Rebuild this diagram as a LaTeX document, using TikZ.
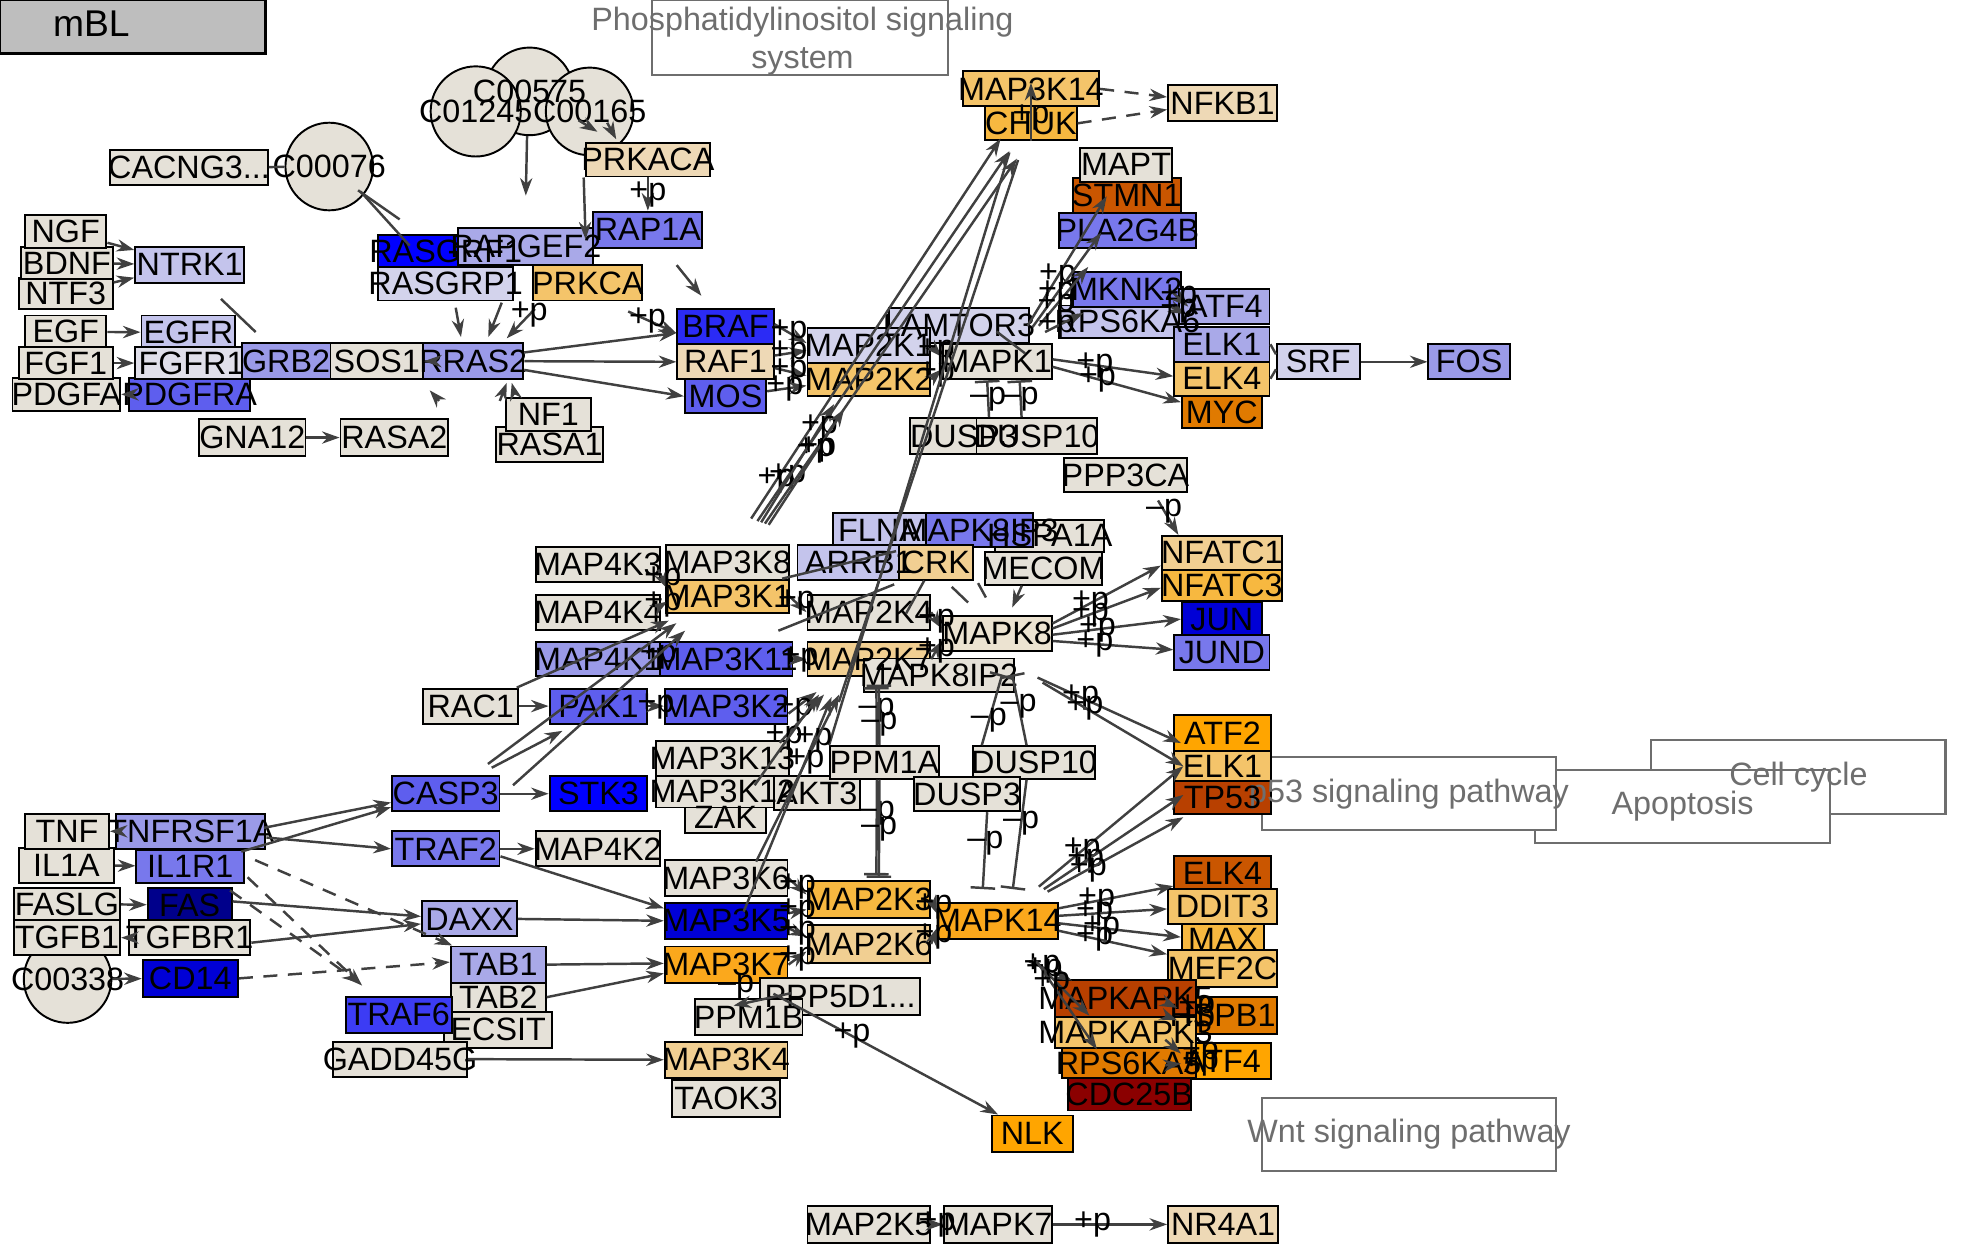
\documentclass[tikz,border=0pt]{standalone}
\usepackage{fontspec}
\setmainfont{Liberation Sans}
\usetikzlibrary{arrows.meta,calc,positioning}

\definecolor{nd}{HTML}{E5E1D8}
\definecolor{bZ}{HTML}{E0DFEA}
\definecolor{bA}{HTML}{D3D3EC}
\definecolor{bB}{HTML}{C4C4EC}
\definecolor{bC}{HTML}{A9A9E8}
\definecolor{bD}{HTML}{9A9AE8}
\definecolor{bE}{HTML}{7878EC}
\definecolor{bF}{HTML}{5E5EEE}
\definecolor{bG}{HTML}{3C3CF4}
\definecolor{bK}{HTML}{2B2BF5}
\definecolor{bH}{HTML}{0000FF}
\definecolor{bI}{HTML}{0000D6}
\definecolor{bJ}{HTML}{00008B}
\definecolor{oZ}{HTML}{ECE3D1}
\definecolor{oA}{HTML}{EED9B6}
\definecolor{oB}{HTML}{F1CF92}
\definecolor{oC}{HTML}{F4C46A}
\definecolor{oD}{HTML}{F7B840}
\definecolor{oE}{HTML}{FBA81C}
\definecolor{oF}{HTML}{FFA500}
\definecolor{oG}{HTML}{E07A00}
\definecolor{oH}{HTML}{CA5600}
\definecolor{oI}{HTML}{B84000}
\definecolor{oJ}{HTML}{8B0000}
\definecolor{mblgray}{HTML}{BEBEBE}
\definecolor{edge}{HTML}{404040}
\definecolor{maptxt}{HTML}{6E6E6E}

\pgfdeclarelayer{boxes}
\pgfsetlayers{boxes,main}

\newcommand{\ux}{0.01252cm}
\newcommand{\gfont}{\fontsize{9.2}{10.7}\selectfont}

% gene box and its label: name, x1, y1, x2, y2, fill, label
\newcommand{\gene}[7]{%
  \begin{pgfonlayer}{boxes}
    \node[genebox, fill=#6, minimum width={(#4-#2)*\ux}, minimum height={(#5-#3)*\ux}]
      (#1) at ({(#2+#4)/2},{(#3+#5)/2}) {};
  \end{pgfonlayer}
  \node[genetxt] (#1-t) at (#1) {#7};}
% compound: name, x, y, radius, label
\newcommand{\cpd}[5]{%
  \begin{pgfonlayer}{boxes}
    \node[cpdbox, minimum size={2*#4*\ux}] (#1) at (#2,#3) {};
  \end{pgfonlayer}
  \node[genetxt] (#1-t) at (#1) {#5};}
% pathway map box: name, x1, y1, x2, y2, label
\newcommand{\pmap}[6]{%
  \begin{pgfonlayer}{boxes}
    \node[mapbox, minimum width={(#4-#2)*\ux}, minimum height={(#5-#3)*\ux}]
      (#1) at ({(#2+#4)/2},{(#3+#5)/2}) {};
  \end{pgfonlayer}
  \node[maptext] (#1-t) at (#1) {#6};}

\begin{document}
\begin{tikzpicture}[x=0.01252cm, y=-0.01252cm,
    genebox/.style={draw=black, line width=0.55pt, inner sep=0pt, rectangle},
    cpdbox/.style={draw=black, line width=0.55pt, circle, fill=nd, inner sep=0pt},
    genetxt/.style={font=\gfont, inner sep=0pt, text=black},
    mapbox/.style={draw=maptxt, line width=0.6pt, fill=white, inner sep=0pt},
    maptext/.style={font=\gfont, text=maptxt, align=center, inner sep=0pt},
    lbl/.style={font=\gfont, inner sep=0pt, text=black},
    ar/.style={draw=edge, line width=0.7pt, -{Stealth[length=5pt,width=3.5pt]}},
    ln/.style={draw=edge, line width=0.7pt},
    dsh/.style={ar, dash pattern=on 4pt off 3pt},
    inh/.style={draw=edge, line width=0.7pt, -{Bar[width=7pt]}}]
\useasboundingbox (0,0) rectangle (1568,996);

% title and pathway maps
\begin{pgfonlayer}{boxes}
  \node[draw=black, line width=0.8pt, fill=mblgray, inner sep=0pt,
    minimum width={212*\ux}, minimum height={43*\ux}] (mbl) at (106,21.5) {};
  \node[mapbox, minimum width={236*\ux}, minimum height={60*\ux}] (phos) at (639,30) {};
\end{pgfonlayer}
\node[font=\fontsize{10.6}{12}\selectfont, inner sep=0pt] (mbl-t) at (73,19) {mBL};
\node[maptext, font=\fontsize{9.2}{10.9}\selectfont] (phos-t) at (641,33) {Phosphatidylinositol signaling\\system};
\pmap{cellcyc}{1319}{591}{1554}{650}{Cell cycle}
\pmap{apopt}{1226}{615}{1462}{673}{Apoptosis}
\pmap{ptf}{1008}{605}{1243}{663}{p53 signaling pathway}
\pmap{wnt}{1008}{877}{1243}{935}{Wnt signaling pathway}

% receptors and RAS
\gene{ntf3}{15}{222}{90}{247}{nd}{NTF3}
\gene{bdnf}{17}{197}{90}{223}{nd}{BDNF}
\gene{ngf}{20}{172}{85}{198}{nd}{NGF}
\gene{ntrk1}{108}{197}{195}{226}{bB}{NTRK1}
\gene{egf}{20}{252}{85}{278}{nd}{EGF}
\gene{egfr}{113}{252}{188}{279}{bB}{EGFR}
\gene{pdgfa}{10}{302}{96}{328}{nd}{PDGFA}
\gene{fgf1}{15}{277}{90}{303}{nd}{FGF1}
\gene{pdgfra}{103}{302}{200}{328}{bF}{PDGFRA}
\gene{fgfr1}{108}{277}{198}{303}{bZ}{FGFR1}
\gene{grb2}{193}{274}{264}{303}{bD}{GRB2}
\gene{sos1}{264}{274}{338}{303}{nd}{SOS1}
\gene{rras2}{338}{274}{418}{303}{bD}{RRAS2}
\gene{gna12}{159}{335}{244}{364}{nd}{GNA12}
\gene{rasa2}{272}{335}{358}{364}{nd}{RASA2}
\gene{rasa1}{396}{341}{482}{369}{nd}{RASA1}
\gene{nf1}{404}{318}{472}{344}{nd}{NF1}
\gene{cacng}{88}{120}{214}{148}{nd}{CACNG3...}
\cpd{c00076}{263}{133}{35}{C00076}
\cpd{c00575}{423}{73}{35}{C00575}
\cpd{c01245}{380}{89}{36}{C01245}
\cpd{c00165}{471}{89}{35}{C00165}
\gene{prkaca}{468}{114}{567}{141}{oA}{PRKACA}
\gene{rap1a}{474}{169}{561}{198}{bE}{RAP1A}
\gene{rasgrf1}{302}{188}{410}{214}{bH}{RASGRF1}
\gene{rapgef2}{366}{182}{474}{212}{bC}{RAPGEF2}
\gene{rasgrp1}{302}{213}{410}{240}{bA}{RASGRP1}
\gene{prkca}{426}{212}{513}{240}{oC}{PRKCA}

% ERK module
\gene{braf}{541}{247}{618}{275}{bK}{BRAF}
\gene{raf1}{541}{275}{618}{303}{oA}{RAF1}
\gene{mos}{547}{303}{612}{330}{bF}{MOS}
\gene{lamtor3}{710}{246}{822}{274}{bA}{LAMTOR3}
\gene{map2k1}{645}{262}{743}{290}{bA}{MAP2K1}
\gene{map2k2}{645}{290}{743}{316}{oC}{MAP2K2}
\gene{mapk1}{753}{275}{840}{303}{nd}{MAPK1}
\gene{map3k14}{769}{57}{878}{85}{oC}{MAP3K14}
\gene{chuk}{787}{85}{860}{112}{oD}{CHUK}
\gene{nfkb1}{933}{68}{1020}{97}{oA}{NFKB1}
\gene{pla2g4b}{846}{170}{955}{198}{bE}{PLA2G4B}
\gene{stmn1}{857}{142}{943}{170}{oH}{STMN1}
\gene{mapt}{863}{118}{936}{145}{nd}{MAPT}
\gene{rps6ka6}{846}{244}{955}{270}{bB}{RPS6KA6}
\gene{mknk2}{857}{217}{943}{245}{bE}{MKNK2}
\gene{atf4a}{942}{231}{1014}{259}{bC}{ATF4}
\gene{elk1a}{938}{261}{1014}{289}{bC}{ELK1}
\gene{elk4a}{938}{289}{1014}{316}{oC}{ELK4}
\gene{myc}{944}{316}{1008}{342}{oG}{MYC}
\gene{srf}{1020}{275}{1086}{303}{bA}{SRF}
\gene{fos}{1141}{275}{1206}{303}{bD}{FOS}
\gene{dusp3a}{727}{334}{813}{363}{nd}{DUSP3}
\gene{dusp10a}{780}{334}{876}{363}{nd}{DUSP10}
\gene{ppp3ca}{850}{366}{948}{393}{nd}{PPP3CA}

% JNK module
\gene{hspa1a}{795}{415}{882}{441}{nd}{HSPA1A}
\gene{flna}{665}{410}{740}{437}{bB}{FLNA}
\gene{mapk8ip3}{740}{410}{825}{437}{bE}{MAPK8IP3}
\gene{mecom}{787}{441}{880}{467}{nd}{MECOM}
\gene{arrb1}{637}{435}{735}{463}{bB}{ARRB1}
\gene{crk}{718}{435}{777}{463}{oB}{CRK}
\gene{map4k3}{428}{437}{527}{465}{nd}{MAP4K3}
\gene{map3k8}{532}{435}{630}{463}{nd}{MAP3K8}
\gene{map3k1}{532}{463}{630}{490}{oC}{MAP3K1}
\gene{map4k4}{428}{475}{527}{503}{nd}{MAP4K4}
\gene{map2k4}{645}{475}{743}{503}{nd}{MAP2K4}
\gene{mapk8}{753}{492}{840}{520}{oZ}{MAPK8}
\gene{nfatc1}{928}{428}{1024}{455}{oB}{NFATC1}
\gene{nfatc3}{928}{455}{1024}{480}{oD}{NFATC3}
\gene{jun}{944}{481}{1008}{508}{bI}{JUN}
\gene{jund}{938}{507}{1014}{535}{bE}{JUND}
\gene{map4k1}{428}{513}{527}{540}{bD}{MAP4K1}
\gene{map3k11}{527}{513}{633}{540}{bF}{MAP3K11}
\gene{map2k7}{645}{513}{743}{540}{oB}{MAP2K7}
\gene{mapk8ip2}{690}{526}{810}{553}{nd}{MAPK8IP2}
\gene{rac1}{338}{550}{414}{578}{nd}{RAC1}
\gene{pak1}{439}{550}{517}{578}{bF}{PAK1}
\gene{map3k2}{531}{550}{629}{578}{bF}{MAP3K2}
\gene{zak}{547}{640}{612}{665}{nd}{ZAK}
\gene{map3k13}{524}{592}{630}{620}{nd}{MAP3K13}
\gene{map3k12}{524}{620}{630}{645}{nd}{MAP3K12}
\gene{akt3}{618}{620}{687}{647}{nd}{AKT3}
\gene{ppm1a}{663}{596}{750}{622}{nd}{PPM1A}
\gene{dusp10b}{777}{596}{875}{622}{nd}{DUSP10}
\gene{dusp3b}{730}{621}{815}{648}{nd}{DUSP3}
\gene{stk3}{439}{620}{517}{648}{bH}{STK3}
\gene{casp3}{313}{620}{399}{648}{bF}{CASP3}
\gene{traf2}{313}{664}{399}{692}{bE}{TRAF2}
\gene{map4k2}{428}{664}{527}{692}{nd}{MAP4K2}

% ligands, receptors, adaptors (lower left)
\gene{il1a}{15}{677}{91}{705}{nd}{IL1A}
\gene{tnf}{20}{650}{87}{678}{nd}{TNF}
\gene{tnfrsf1a}{93}{650}{212}{678}{bD}{TNFRSF1A}
\gene{il1r1}{109}{679}{195}{705}{bE}{IL1R1}
\gene{faslg}{11}{709}{96}{735}{nd}{FASLG}
\gene{fas}{118}{709}{185}{737}{bJ}{FAS}
\cpd{c00338}{54}{782}{35}{C00338}
\gene{tgfb1}{11}{735}{96}{763}{nd}{TGFB1}
\gene{tgfbr1}{103}{735}{200}{763}{nd}{TGFBR1}
\gene{cd14}{114}{767}{190}{796}{bI}{CD14}
\gene{daxx}{337}{720}{413}{748}{bC}{DAXX}
\gene{tab2}{360}{784}{436}{809}{nd}{TAB2}
\gene{tab1}{360}{756}{436}{785}{bC}{TAB1}
\gene{ecsit}{355}{808}{441}{837}{nd}{ECSIT}
\gene{traf6}{276}{796}{361}{825}{bG}{TRAF6}
\gene{gadd45g}{266}{832}{373}{860}{nd}{GADD45G}

% p38 module
\gene{map3k6}{531}{687}{629}{716}{nd}{MAP3K6}
\gene{map3k5}{531}{721}{629}{750}{bI}{MAP3K5}
\gene{map3k7}{531}{756}{629}{785}{oE}{MAP3K7}
\gene{ppp5d1}{607}{781}{735}{811}{nd}{PPP5D1...}
\gene{ppm1b}{555}{798}{641}{827}{nd}{PPM1B}
\gene{map3k4}{531}{832}{629}{861}{oB}{MAP3K4}
\gene{taok3}{537}{863}{623}{892}{nd}{TAOK3}
\gene{map2k3}{645}{704}{743}{733}{oD}{MAP2K3}
\gene{map2k6}{645}{739}{743}{769}{oB}{MAP2K6}
\gene{mapk14}{749}{721}{845}{750}{oE}{MAPK14}
\gene{nlk}{792}{891}{857}{920}{oF}{NLK}
\gene{atf2}{938}{571}{1015}{600}{oF}{ATF2}
\gene{elk1b}{938}{600}{1015}{624}{oC}{ELK1}
\gene{tp53}{938}{624}{1015}{650}{oI}{TP53}
\gene{elk4b}{938}{684}{1015}{712}{oH}{ELK4}
\gene{ddit3}{933}{710}{1020}{738}{oC}{DDIT3}
\gene{max}{944}{738}{1010}{763}{oD}{MAX}
\gene{mef2c}{933}{759}{1020}{788}{oC}{MEF2C}
\gene{hspb1}{933}{796}{1020}{826}{oG}{HSPB1}
\gene{atf4b}{938}{833}{1015}{862}{oF}{ATF4}
\gene{mapkapk5}{843}{783}{955}{812}{oI}{MAPKAPK5}
\gene{mapkapk3}{843}{812}{955}{837}{oC}{MAPKAPK3}
\gene{rps6ka5}{848}{837}{955}{861}{oG}{RPS6KA5}
\gene{cdc25b}{853}{861}{951}{887}{oJ}{CDC25B}

% ERK5 module
\gene{map2k5}{645}{963}{743}{993}{nd}{MAP2K5}
\gene{mapk7}{754}{963}{840}{993}{nd}{MAPK7}
\gene{nr4a1}{933}{963}{1021}{993}{oA}{NR4A1}

% connectors: receptors and RAS
\draw[ar] (ngf) -- (ntrk1);
\draw[ar] (bdnf) -- (ntrk1);
\draw[ar] (ntf3) -- (ntrk1);
\draw[ar] (egf) -- (egfr);
\draw[ar] (fgf1) -- (fgfr1);
\draw[ar] (pdgfra) -- (pdgfa);
\draw[ar] (gna12) -- (rasa2);
\draw[ln] (cacng) -- (c00076);
\draw[ar] ($(rras2.west)+(10,0)$) -- (sos1.east);
\draw[ln] ($(ntrk1.south)+(25,12)$) -- ($(grb2.north west)+(12,-8)$);
\draw[ln] ($(c00076)+(23,19)$) -- ($(rasgrf1.north west)+(18,-12)$);
\draw[ln] ($(c00076)+(25,20)$) -- ($(rasgrf1.north west)+(26,9)$);
\draw[ar] ($(c00575.south)+(-2,0)$) -- ($(rapgef2.north)+(0,-25)$);
\draw[ar] ($(c00165)+(-9,7)$) -- ($(prkaca.north west)+(10,-8)$);
\draw[ar] ($(c00165)+(14,9)$) -- ($(prkaca.north west)+(25,-2)$);
\draw[ar] ($(prkaca.south west)+(-1,0)$) -- ($(rapgef2.north east)+(-7,10)$);
\draw[ar] (prkaca) -- node[lbl] (q1) {+p} (rap1a);
\draw[ar] ($(rap1a.south)+(23,13)$) -- ($(braf.north west)+(20,-10)$);
\draw[ar] ($(rasgrp1.south)+(8,5)$) -- ($(rras2.north west)+(31,-4)$);
\draw[ar] ($(rasgrp1.south east)+(-10,1)$) -- ($(rras2.north)+(12,-4)$);
\draw[ar] ($(prkca.south west)+(2,6)$) -- node[lbl,pos=0.2] (q2) {+p} ($(rras2.north east)+(-14,-3)$);
\draw[ar] ($(prkca.south east)+(-12,8)$) -- node[lbl,pos=0.4] (q3) {+p} ($(braf.west)+(0,5)$);
\draw[ar] ($(rras2.east)+(0,-7)$) -- ($(braf.west)+(0,5)$);
\draw[ar] (rras2.east) -- (raf1.west);
\draw[ar] ($(rras2.east)+(0,7)$) -- (mos.west);
\draw[ar] ($(rasa2.north east)+(-8,-14)$) -- ($(rras2.south west)+(6,8)$);
\draw[ar] ($(nf1.north west)+(8,-2)$) -- ($(rras2.south east)+(-10,2)$);
\draw[ar] ($(rasa1.north west)+(4,-20)$) -- ($(rras2.south east)+(-14,2)$);

% connectors: ERK module
\draw[ar] ($(braf.east)+(0,-2)$) -- node[lbl,pos=0.45] (q4) {+p} ($(map2k1.west)+(0,-2)$);
\draw[ar] ($(raf1.east)+(0,-5)$) -- node[lbl,pos=0.45] (q5) {+p} ($(map2k1.west)+(0,4)$);
\draw[ar] ($(raf1.east)+(0,5)$) -- node[lbl,pos=0.45] (q6) {+p} ($(map2k2.west)+(0,-3)$);
\draw[ar] ($(mos.east)+(0,-4)$) -- node[lbl,pos=0.45] (q7) {+p} ($(map2k2.west)+(0,5)$);
\draw[ar] (map2k1.east) -- node[lbl] (q8) {+p} ($(mapk1.west)+(0,-4)$);
\draw[ar] (map2k2.east) -- node[lbl] (q9) {+p} ($(mapk1.west)+(0,6)$);
\draw[ln] ($(lamtor3.south)+(30,-10)$) -- ($(mapk1.north east)+(-22,8)$);
\draw[ar] ($(mapk1.north east)+(-20,-14)$) -- node[lbl,pos=0.38] (q10) {+p} ($(stmn1.south)+(-16,-14)$);
\draw[ar] ($(mapk1.north east)+(-16,-13)$) -- node[lbl,pos=0.35] (q11) {+p} ($(pla2g4b.south)+(-21,-13)$);
\draw[ar] ($(mapk1.north east)+(-11,-14)$) -- node[lbl,pos=0.35] (q12) {+p} ($(mknk2.north west)+(13,-3)$);
\draw[ar] ($(mapk1.north east)+(-6,-9)$) -- node[lbl,pos=0.3] (q13) {+p} ($(rps6ka6.west)+(20,-7)$);
\draw[ar] ($(mknk2.east)+(-10,0)$) -- node[lbl,pos=0.5] (q14) {+p} ($(atf4a.west)+(8,0)$);
\draw[ar] ($(rps6ka6.north east)+(-20,2)$) -- node[lbl,pos=0.5] (q15) {+p} ($(atf4a.west)+(6,6)$);
\draw[ar] ($(mapk1.east)+(0,-2)$) -- node[lbl,pos=0.35] (q16) {+p} ($(elk4a.west)+(0,-2)$);
\draw[ar] ($(mapk1.east)+(0,4)$) -- node[lbl,pos=0.35] (q17) {+p} ($(myc.north west)+(0,6)$);
\draw[ln] (elk1a.east) -- ($(srf.west)+(0,-6)$);
\draw[ln] (elk4a.east) -- ($(srf.west)+(0,6)$);
\draw[ar] (srf) -- (fos);
\draw[dsh] (map3k14.east) -- ($(nfkb1.west)+(0,-5)$);
\draw[dsh] (chuk.east) -- ($(nfkb1.west)+(0,5)$);
\draw[ar] (chuk.south) -- node[lbl,pos=0.4] (q18) {+p} ($(map3k14.north)+(0,10)$);
\draw[inh] ($(dusp3a.north)+(20,0)$) -- node[lbl] (q19) {--p} ($(mapk1.south)+(-8,0)$);
\draw[inh] ($(dusp10a.north)+(-12,0)$) -- node[lbl] (q20) {--p} ($(mapk1.south)+(18,0)$);
\draw[ar] ($(map3k8.north)+(19,-20)$) -- node[lbl,pos=0.1] (q21) {+p} ($(chuk.south west)+(13,-2)$);
\draw[ar] ($(map3k8.north)+(24,-18)$) -- node[lbl,pos=0.12] (q22) {+p} ($(chuk.south west)+(20,8)$);
\draw[ar] ($(map3k8.north)+(30,-16)$) -- node[lbl,pos=0.2] (q23) {+p} ($(chuk.south west)+(26,14)$);
\draw[ar] ($(map3k8.north)+(27,-17)$) -- node[lbl,pos=0.8] (q24) {+p} ($(map2k2.south west)+(22,6)$);
\draw[ar] ($(map3k8.north)+(33,-15)$) -- node[lbl,pos=0.65] (q25) {+p} ($(map2k2.south west)+(30,10)$);
\draw[ln] (ppm1a.north west) -- ($(chuk.south west)+(20,9)$);
\draw[ln] ($(map2k7.south)+(-24,20)$) -- ($(chuk.south west)+(27,15)$);

% connectors: JNK module
\draw[ar] (map3k1.east) -- node[lbl,pos=0.4] (q26) {+p} (map2k4.west);
\draw[ar] ($(map4k3.east)+(-2,4)$) -- node[lbl] (q27) {+p} ($(map3k1.west)+(2,-6)$);
\draw[ar] ($(map4k4.east)+(-2,-4)$) -- node[lbl] (q28) {+p} ($(map3k1.west)+(2,4)$);
\node[lbl] (q29) at ($(map4k1.east)+(-2,-2)$) {+p};
\draw[ar] (map3k11.east) -- node[lbl] (q30) {+p} (map2k7.west);
\draw[ar] (map2k4.east) -- node[lbl] (q31) {+p} ($(mapk8.west)+(0,-4)$);
\draw[ar] (map2k7.east) -- node[lbl] (q32) {+p} ($(mapk8.west)+(0,6)$);
\draw[ar] ($(mapk8.east)+(0,-8)$) -- node[lbl,pos=0.35] (q33) {+p} ($(nfatc1.south west)+(0,-4)$);
\draw[ar] ($(mapk8.east)+(0,-4)$) -- node[lbl,pos=0.35] (q34) {+p} ($(nfatc3.west)+(0,2)$);
\draw[ar] ($(mapk8.east)+(0,1)$) -- node[lbl,pos=0.35] (q35) {+p} (jun.west);
\draw[ar] ($(mapk8.east)+(0,6)$) -- node[lbl,pos=0.35] (q36) {+p} ($(jund.west)+(0,-2)$);
\draw[ar] ($(mapk8ip2.north east)+(18,16)$) -- node[lbl,pos=0.3] (q37) {+p} ($(atf2.west)+(6,8)$);
\draw[ar] ($(mapk8ip2.north east)+(22,20)$) -- node[lbl,pos=0.3] (q38) {+p} ($(elk1b.west)+(8,0)$);
\draw[ar] ($(ppp3ca.south)+(26,6)$) -- node[lbl,pos=0.3] (q39) {--p} ($(nfatc1.north west)+(14,0)$);
\draw[ar] ($(mecom.south west)+(30,0)$) -- ($(mapk8.north)+(12,-6)$);
\draw[ln] ($(crk.south west)+(21,0)$) -- ($(map2k4.east)+(-20,1)$);
\draw[ln] ($(mecom.south west)+(-26,1)$) -- ($(mapk8.north west)+(21,-10)$);
\draw[ln] ($(mecom.south west)+(-5,-2)$) -- ($(mapk8.north)+(-9,-14)$);
\draw[ln] ($(map3k1.north east)+(-6,0)$) -- ($(arrb1.north east)+(-20,6)$);
\draw[ln] ($(map3k1.south east)+(-9,13)$) -- ($(crk.south west)+(-3,3)$);
\draw[ar] ($(rac1.north east)+(-2,0)$) -- ($(map3k1.south west)+(3,5)$);
\draw[ar] (rac1) -- (pak1);
\draw[ar] (pak1) -- node[lbl] (q40) {+p} (map3k2);
\draw[ar] ($(casp3.north east)+(-10,-9)$) -- ($(map3k1.south west)+(9,7)$);
\draw[ar] ($(casp3.north east)+(10,8)$) -- ($(map3k1.south west)+(16,13)$);
\draw[ar] ($(casp3.north east)+(-7,-6)$) -- ($(pak1.south west)+(11,5)$);
\draw[ar] (casp3) -- (stk3);
\draw[ar] ($(map3k13.north east)+(-8,2)$) -- node[lbl,pos=0.1] (q41) {+p} ($(map2k7.south west)+(14,14)$);
\draw[ar] ($(map3k2.east)+(0,6)$) -- node[lbl,pos=0.2] (q42) {+p} ($(map2k7.south west)+(8,12)$);
\draw[ar] ($(map3k12.north east)+(-28,8)$) -- ($(map2k7.south west)+(10,14)$);
\draw[inh] ($(ppm1a.north)+(-6,0)$) -- node[lbl,pos=0.6] (q43) {--p} ($(map2k7.south)+(6,8)$);
\draw[inh] ($(ppm1a.north)+(-4,0)$) -- node[lbl,pos=0.35] (q44) {--p} ($(map2k7.south)+(8,6)$);
\draw[inh] ($(dusp10b.north)+(-6,0)$) -- node[lbl,pos=0.55] (q45) {--p} ($(mapk8.south)+(12,18)$);
\draw[inh] ($(dusp10b.north west)+(8,0)$) -- node[lbl,pos=0.35] (q46) {--p} ($(mapk8.south)+(4,18)$);

% connectors: lower left
\draw[ar] (tnfrsf1a) -- (tnf);
\draw[ar] (il1a) -- (il1r1);
\draw[ar] (faslg) -- (fas);
\draw[ar] (tgfbr1) -- (tgfb1);
\draw[ar] (c00338) -- (cd14);
\draw[ar] ($(tnfrsf1a.north east)+(-2,12)$) -- ($(casp3.west)+(0,7)$);
\draw[ar] ($(il1r1.north east)+(-3,2)$) -- ($(casp3.south west)+(0,-4)$);
\draw[ar] ($(tnfrsf1a.east)+(0,5)$) -- (traf2.west);
\draw[ar] (traf2) -- (map4k2);
\draw[ar] ($(traf2.east)+(0,6)$) -- ($(map3k5.west)+(0,-10)$);
\draw[ar] ($(fas.east)+(0,-3)$) -- ($(daxx.west)+(0,-2)$);
\draw[ar] ($(tgfbr1.east)+(0,4)$) -- ($(daxx.west)+(0,4)$);
\draw[ar] (daxx.east) -- (map3k5.west);
\draw[dsh] ($(il1r1.east)+(8,-5)$) -- ($(tab1.north west)+(2,0)$);
\draw[dsh] ($(il1r1.south east)+(2,-5)$) -- ($(traf6.north west)+(14,-8)$);
\draw[dsh] ($(fas.north east)+(-2,3)$) -- ($(traf6.north west)+(12,-10)$);
\draw[dsh] (cd14.east) -- ($(tab1.west)+(0,-2)$);
\draw[ar] (tab1.east) -- ($(map3k7.west)+(0,-1)$);
\draw[ar] (tab2.east) -- ($(map3k7.west)+(0,7)$);
\draw[ar] (gadd45g.east) -- (map3k4.west);

% connectors: p38 module
\draw[ar] (map3k6.east) -- node[lbl] (q47) {+p} ($(map2k3.west)+(0,-4)$);
\draw[ar] ($(map3k5.east)+(0,-6)$) -- node[lbl] (q48) {+p} ($(map2k3.west)+(0,8)$);
\draw[ar] ($(map3k5.east)+(0,6)$) -- node[lbl] (q49) {+p} ($(map2k6.west)+(0,-6)$);
\draw[ar] (map3k7.east) -- node[lbl] (q50) {+p} ($(map2k6.west)+(0,6)$);
\draw[ar] ($(map3k5.north)+(14,8)$) -- node[lbl,pos=0.8] (q51) {+p} ($(map2k7.south west)+(20,16)$);
\draw[ar] ($(map3k6.north)+(24,2)$) -- node[lbl,pos=0.6] (q52) {+p} ($(map2k7.south west)+(26,14)$);
\draw[ar] (map2k3.east) -- node[lbl] (q53) {+p} ($(mapk14.west)+(0,-6)$);
\draw[ar] (map2k6.east) -- node[lbl] (q54) {+p} ($(mapk14.west)+(0,6)$);
\draw[ar] ($(mapk14.north east)+(-16,-12)$) -- node[lbl,pos=0.3] (q55) {+p} ($(elk1b.west)+(8,0)$);
\draw[ar] ($(mapk14.north east)+(-12,-10)$) -- node[lbl,pos=0.3] (q56) {+p} ($(tp53.west)+(8,-2)$);
\draw[ar] ($(mapk14.north east)+(-9,-8)$) -- node[lbl,pos=0.3] (q57) {+p} ($(tp53.south west)+(8,2)$);
\draw[ar] ($(mapk14.east)+(0,-10)$) -- node[lbl,pos=0.33] (q58) {+p} ($(elk4b.south west)+(0,-5)$);
\draw[ar] ($(mapk14.east)+(0,-4)$) -- node[lbl,pos=0.33] (q59) {+p} ($(ddit3.west)+(0,2)$);
\draw[ar] ($(mapk14.east)+(0,2)$) -- node[lbl,pos=0.35] (q60) {+p} ($(max.west)+(0,-2)$);
\draw[ar] ($(mapk14.east)+(0,8)$) -- node[lbl,pos=0.33] (q61) {+p} ($(mef2c.north west)+(0,4)$);
\draw[ar] ($(mapk14.south)+(25,17)$) -- node[lbl,pos=0.3] (q62) {+p} ($(mapkapk5.north west)+(14,1)$);
\draw[ar] ($(mapk14.south)+(28,15)$) -- node[lbl,pos=0.2] (q63) {+p} ($(mapkapk3.north west)+(28,0)$);
\draw[ar] ($(mapk14.south)+(31,17)$) -- node[lbl,pos=0.25] (q64) {+p} ($(rps6ka5.north west)+(29,2)$);
\draw[ar] ($(mapkapk5.east)+(-25,3)$) -- node[lbl,at end,right] (q65) {+p} ($(hspb1.west)+(8,-6)$);
\draw[ar] ($(mapkapk3.north east)+(-25,0)$) -- node[lbl,at end,right] (q66) {+p} ($(hspb1.west)+(8,4)$);
\draw[ar] ($(mapkapk3.east)+(-25,6)$) -- node[lbl,at end,right] (q67) {+p} ($(atf4b.west)+(6,-6)$);
\draw[ar] ($(rps6ka5.east)+(-25,2)$) -- node[lbl,at end,right] (q68) {+p} ($(atf4b.west)+(6,2)$);
\draw[inh] ($(ppm1a.south)+(-6,0)$) -- node[lbl,pos=0.35] (q69) {--p} ($(map2k3.north)+(6,-4)$);
\draw[inh] ($(ppm1a.south)+(-4,0)$) -- node[lbl,pos=0.5] (q70) {--p} ($(map2k3.north)+(8,-2)$);
\draw[inh] ($(dusp3b.south)+(16,0)$) -- node[lbl,pos=0.4] (q71) {--p} ($(mapk14.north)+(-12,-10)$);
\draw[inh] ($(dusp10b.south)+(-6,0)$) -- node[lbl,pos=0.4] (q72) {--p} ($(mapk14.north)+(12,-10)$);
\draw[ar] ($(map3k7.south east)+(-12,8)$) -- node[lbl,pos=0.35] (q73) {+p} ($(nlk.north west)+(6,0)$);
\draw[ar] ($(ppp5d1.north west)+(26,13)$) -- ($(ppm1b.north)+(-12,6)$);
\node[lbl] (q74) at ($(map3k7.south)+(8,3)$) {--p};

% connectors: ERK5 module
\draw[ar] (map2k5) -- node[lbl] (q75) {+p} (mapk7);
\draw[ar] (mapk7) -- node[lbl,pos=0.35] (q76) {+p} (nr4a1);
\end{tikzpicture}
\end{document}
